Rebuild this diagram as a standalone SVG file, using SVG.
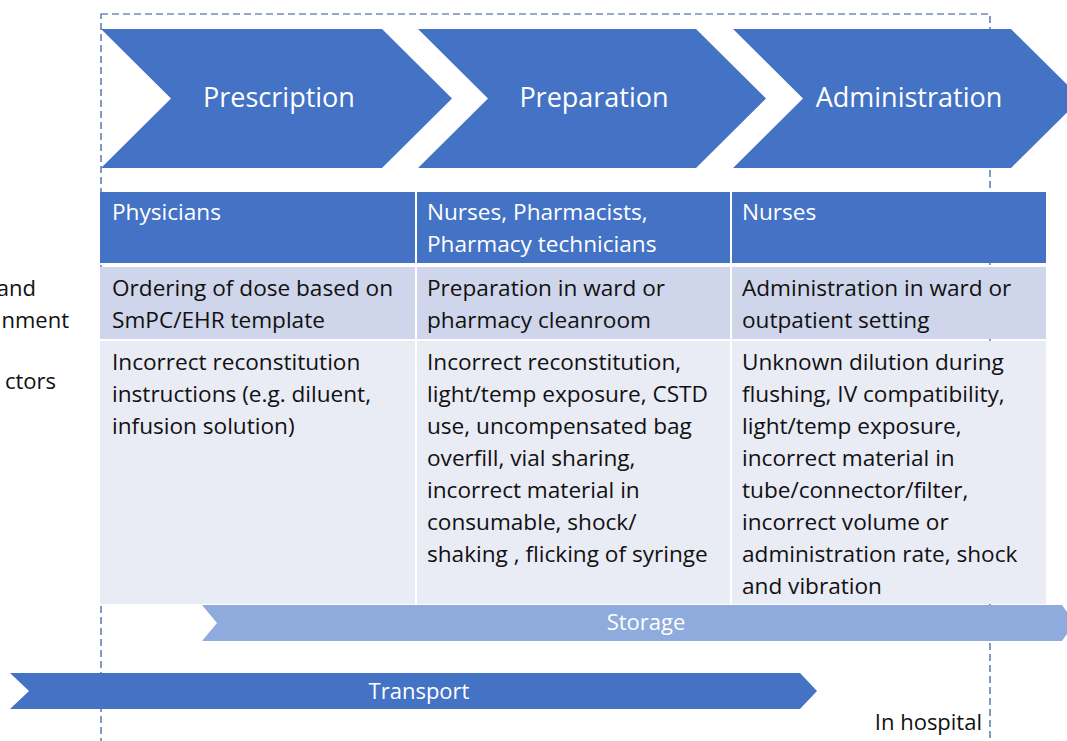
<svg xmlns="http://www.w3.org/2000/svg" width="1067" height="741" viewBox="0 0 1067 741">
  <style>
    .step { fill: #4472C4; }
    .step-label { font-family: "Open Sans", "Liberation Sans", sans-serif; font-size: 27px; fill: #FFFFFF; text-anchor: middle; }
    .hdr { fill: #4472C4; }
    .row2 { fill: #CFD5EA; }
    .row3 { fill: #E9EBF5; }
    .cell { font-family: "Open Sans", "Liberation Sans", sans-serif; font-size: 22.6px; fill: #111111; }
    .cell-hdr { font-family: "Open Sans", "Liberation Sans", sans-serif; font-size: 22.6px; fill: #FFFFFF; }
    .band-label { font-family: "Open Sans", "Liberation Sans", sans-serif; font-size: 22px; fill: #FFFFFF; text-anchor: middle; }
    .side { font-family: "Open Sans", "Liberation Sans", sans-serif; font-size: 22px; fill: #111111; text-anchor: end; }
  </style>

  <rect width="1067" height="741" fill="#FFFFFF"/>

  <!-- hospital boundary -->
  <g id="hospital-boundary">
    <rect x="101" y="14" width="889" height="780" fill="none" stroke="#2F5597" stroke-width="1.2" stroke-dasharray="7,4"/>
    <text x="982" y="730" font-family="'Open Sans', 'Liberation Sans', sans-serif" font-size="22px" fill="#111111" text-anchor="end">In hospital</text>
  </g>

  <!-- row labels, cut at the left edge -->
  <g id="row-labels">
    <text x="36" y="296" class="side">and</text>
    <text x="69" y="328" class="side">nment</text>
    <text x="56" y="389" class="side">ctors</text>
  </g>

  <!-- process chevrons -->
  <g id="step-prescription">
    <polygon class="step" points="101,29 382,29 452,98.5 382,168 101,168 171,98.5"/>
    <text x="279" y="107" class="step-label">Prescription</text>
  </g>
  <g id="step-preparation">
    <polygon class="step" points="418,29 696,29 766,98.5 696,168 418,168 488,98.5"/>
    <text x="594" y="107" class="step-label">Preparation</text>
  </g>
  <g id="step-administration">
    <polygon class="step" points="733,29 1011,29 1081,98.5 1011,168 733,168 803,98.5"/>
    <text x="909" y="107" class="step-label">Administration</text>
  </g>

  <!-- table: column Prescription -->
  <g id="col-prescription">
    <rect class="hdr" x="100" y="192" width="315" height="71"/>
    <text x="112" y="220" class="cell-hdr">Physicians</text>
    <rect class="row2" x="100" y="267" width="315" height="72"/>
    <text class="cell"><tspan x="112" y="296">Ordering of dose based on</tspan><tspan x="112" y="328">SmPC/EHR template</tspan></text>
    <rect class="row3" x="100" y="341" width="315" height="263"/>
    <text class="cell">
      <tspan x="112" y="370">Incorrect reconstitution</tspan>
      <tspan x="112" y="402">instructions (e.g. diluent,</tspan>
      <tspan x="112" y="434">infusion solution)</tspan>
    </text>
  </g>

  <!-- table: column Preparation -->
  <g id="col-preparation">
    <rect class="hdr" x="417" y="192" width="313" height="71"/>
    <text class="cell-hdr"><tspan x="427" y="220">Nurses, Pharmacists,</tspan><tspan x="427" y="252">Pharmacy technicians</tspan></text>
    <rect class="row2" x="417" y="267" width="313" height="72"/>
    <text class="cell"><tspan x="427" y="296">Preparation in ward or</tspan><tspan x="427" y="328">pharmacy cleanroom</tspan></text>
    <rect class="row3" x="417" y="341" width="313" height="263"/>
    <text class="cell">
      <tspan x="427" y="370">Incorrect reconstitution,</tspan>
      <tspan x="427" y="402">light/temp exposure, CSTD</tspan>
      <tspan x="427" y="434">use, uncompensated bag</tspan>
      <tspan x="427" y="466">overfill, vial sharing,</tspan>
      <tspan x="427" y="498">incorrect material in</tspan>
      <tspan x="427" y="530">consumable, shock/</tspan>
      <tspan x="427" y="562">shaking , flicking of syringe</tspan>
    </text>
  </g>

  <!-- table: column Administration -->
  <g id="col-administration">
    <rect class="hdr" x="732" y="192" width="314" height="71"/>
    <text x="742" y="220" class="cell-hdr">Nurses</text>
    <rect class="row2" x="732" y="267" width="314" height="72"/>
    <text class="cell"><tspan x="742" y="296">Administration in ward or</tspan><tspan x="742" y="328">outpatient setting</tspan></text>
    <rect class="row3" x="732" y="341" width="314" height="263"/>
    <text class="cell">
      <tspan x="742" y="370">Unknown dilution during</tspan>
      <tspan x="742" y="402">flushing, IV compatibility,</tspan>
      <tspan x="742" y="434">light/temp exposure,</tspan>
      <tspan x="742" y="466">incorrect material in</tspan>
      <tspan x="742" y="498">tube/connector/filter,</tspan>
      <tspan x="742" y="530">incorrect volume or</tspan>
      <tspan x="742" y="562">administration rate, shock</tspan>
      <tspan x="742" y="594">and vibration</tspan>
    </text>
  </g>

  <!-- storage band -->
  <g id="band-storage">
    <polygon points="202,605 1062,605 1075,623 1062,641 202,641 217,623" fill="#8FAADC"/>
    <text x="646" y="630" class="band-label">Storage</text>
  </g>

  <!-- transport band -->
  <g id="band-transport">
    <polygon points="10,673 800,673 817,691 800,709 10,709 29,691" fill="#4472C4"/>
    <text x="419" y="699" class="band-label">Transport</text>
  </g>
</svg>
